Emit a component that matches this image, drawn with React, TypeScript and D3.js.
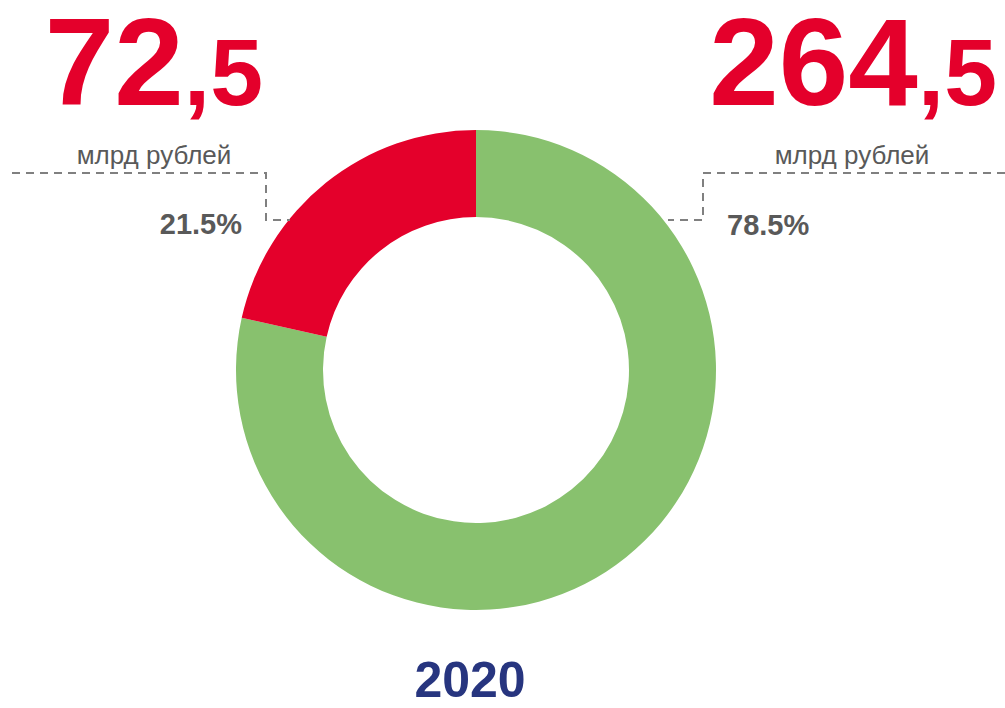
import React from "react";
import * as d3 from "d3";

const categories = ["green", "red"];
const values = [264.5, 72.5];
const percentLabels = ["78.5%", "21.5%"];
const bigIntParts = ["264", "72"];
const bigFracParts = [",5", ",5"];
const unitLabel = "млрд рублей";
const yearLabel = "2020";

const W = 1005;
const H = 708;
const cx = 476;
const cy = 370;
const outerR = 240;
const innerR = 153;
const colors: Record<string, string> = { green: "#88c16e", red: "#e4002b" };
const FONT = "'Liberation Sans', Arial, sans-serif";

export default function App() {
  const pie = d3.pie<number>().sort(null).value((d) => d);
  const arcs = pie(values);
  const arc = d3.arc<d3.PieArcDatum<number>>().innerRadius(innerR).outerRadius(outerR);

  return (
    <svg width={W} height={H} style={{ position: "absolute", left: 0, top: 0, background: "#fff" }}>
      <g transform={`translate(${cx},${cy})`}>
        {arcs.map((a, i) => (
          <path key={i} d={arc(a) || ""} fill={colors[categories[i]]} />
        ))}
      </g>
      {/* leader lines */}
      <path d="M12,173 H266 V220 H290" fill="none" stroke="#808080" strokeWidth={2} strokeDasharray="8,6" />
      <path d="M1005,173 H703 V220 H668" fill="none" stroke="#808080" strokeWidth={2} strokeDasharray="8,6" />

      {/* big numbers */}
      <text x={263} y={105} textAnchor="end" fill="#e4002b" fontFamily={FONT} fontWeight="bold">
        <tspan fontSize={125}>{bigIntParts[1]}</tspan>
        <tspan fontSize={95}>{bigFracParts[1]}</tspan>
      </text>
      <text x={997} y={105} textAnchor="end" fill="#e4002b" fontFamily={FONT} fontWeight="bold">
        <tspan fontSize={125}>{bigIntParts[0]}</tspan>
        <tspan fontSize={95}>{bigFracParts[0]}</tspan>
      </text>

      {/* units */}
      <text x={154} y={164} textAnchor="middle" fill="#595959" fontFamily={FONT} fontSize={26}>{unitLabel}</text>
      <text x={852} y={164} textAnchor="middle" fill="#595959" fontFamily={FONT} fontSize={26}>{unitLabel}</text>

      {/* percents */}
      <text x={242} y={234} textAnchor="end" fill="#595959" fontFamily={FONT} fontWeight="bold" fontSize={29}>{percentLabels[1]}</text>
      <text x={727} y={235} textAnchor="start" fill="#595959" fontFamily={FONT} fontWeight="bold" fontSize={29}>{percentLabels[0]}</text>

      {/* year */}
      <text x={470} y={697} textAnchor="middle" fill="#27357f" fontFamily={FONT} fontWeight="bold" fontSize={50}>{yearLabel}</text>
    </svg>
  );
}
